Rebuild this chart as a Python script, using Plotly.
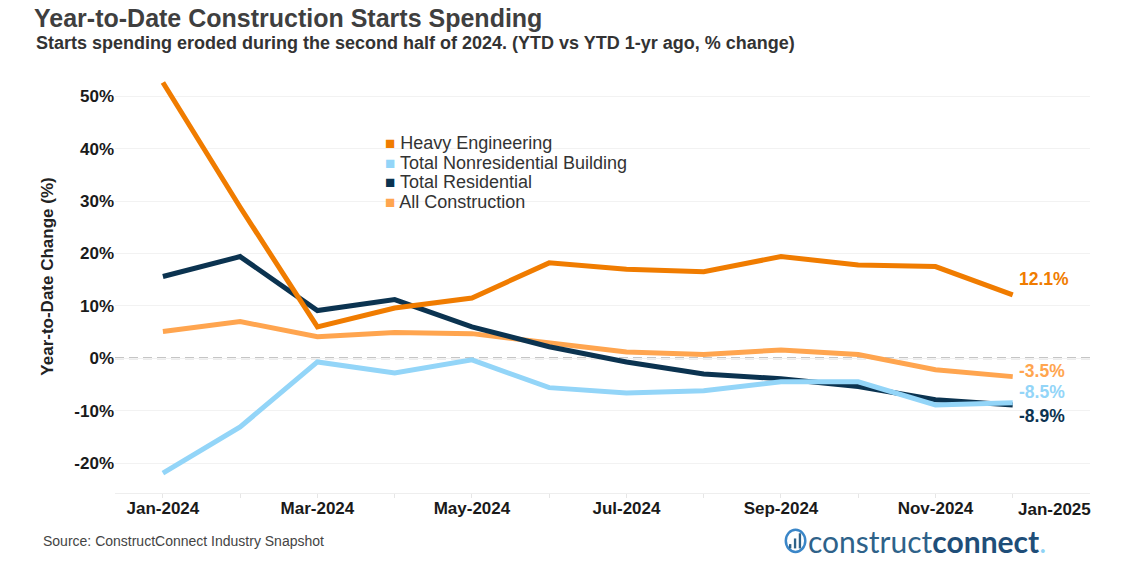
import plotly.graph_objects as go

months = ["Jan-2024", "Feb-2024", "Mar-2024", "Apr-2024", "May-2024", "Jun-2024",
          "Jul-2024", "Aug-2024", "Sep-2024", "Oct-2024", "Nov-2024", "Dec-2024"]
heavy_engineering = [52.6, 28.8, 6.0, 9.6, 11.5, 18.2, 17.0, 16.5, 19.4, 17.8, 17.5, 12.1]
nonresidential = [-21.9, -13.1, -0.7, -2.8, -0.3, -5.6, -6.6, -6.2, -4.5, -4.5, -8.9, -8.5]
residential = [15.6, 19.4, 9.1, 11.2, 6.0, 2.2, -0.7, -3.0, -3.9, -5.4, -7.9, -8.9]
all_construction = [5.1, 7.0, 4.1, 4.9, 4.7, 3.0, 1.2, 0.7, 1.6, 0.7, -2.2, -3.5]

tick_labels = ["Jan-2024", "Mar-2024", "May-2024", "Jul-2024", "Sep-2024", "Nov-2024"]
last_tick_label = "Jan-2025"
y_ticks = [-20, -10, 0, 10, 20, 30, 40, 50]

C_HE = "#F07C00"
C_NR = "#93D5F8"
C_RES = "#0B3350"
C_ALL = "#FFA54F"

FONT = "Liberation Sans, Arial, sans-serif"
x_idx = list(range(len(months)))
tick_idx = [months.index(m) for m in tick_labels]

fig = go.Figure()

series = [
    ("All Construction", all_construction, C_ALL),
    ("Total Residential", residential, C_RES),
    ("Total Nonresidential Building", nonresidential, C_NR),
    ("Heavy Engineering", heavy_engineering, C_HE),
]
for name, vals, col in series:
    fig.add_trace(go.Scatter(x=x_idx, y=vals, mode="lines", name=name,
                             line=dict(color=col, width=5), showlegend=False,
                             customdata=months,
                             hovertemplate="%{customdata}: %{y:.1f}%<extra>" + name + "</extra>"))

# legend (square swatch + name), drawn as annotations for compact row spacing
legend_items = [("Heavy Engineering", C_HE), ("Total Nonresidential Building", C_NR),
                ("Total Residential", C_RES), ("All Construction", C_ALL)]
for i, (name, col) in enumerate(legend_items):
    y_px = 143 + i * 19.7
    fig.add_annotation(x=(383 - 115) / 975, y=(493 - y_px) / 433, xref="paper", yref="paper",
                       text=f"<span style='color:{col};font-size:17px'>■</span> {name}",
                       showarrow=False, xanchor="left", yanchor="middle",
                       font=dict(family=FONT, size=18, color="#333333"))

# end labels
end_labels = [
    (heavy_engineering[-1], C_HE, 16),
    (all_construction[-1], C_ALL, 6),
    (nonresidential[-1], C_NR, 11),
    (residential[-1], C_RES, -11),
]
for val, col, ys in end_labels:
    fig.add_annotation(x=x_idx[-1], y=val, text=f"{val:.1f}%", showarrow=False,
                       xanchor="left", yanchor="middle", xshift=4, yshift=ys,
                       font=dict(family=FONT, size=17.5, color=col, weight="bold"))

fig.add_hline(y=0, line=dict(color="#B3B3B3", width=2, dash="9px,5px"), layer="below")

# last x label (shifted to fit inside, as in the original)
fig.add_annotation(x=12, y=0, xref="x", yref="paper", text=last_tick_label, showarrow=False,
                   xanchor="right", yanchor="top", yshift=-5, xshift=3,
                   font=dict(family=FONT, size=17, color="#1a1a1a", weight="bold"))

# subtitle
fig.add_annotation(x=(34 - 115) / 975, y=(493 - 43) / 433, xref="paper", yref="paper", text=
                   "Starts spending eroded during the second half of 2024. (YTD vs YTD 1-yr ago, % change)",
                   showarrow=False, xanchor="left", yanchor="middle",
                   font=dict(family=FONT, size=18, color="#333333", weight="bold"))

# source
fig.add_annotation(x=(41 - 115) / 975, y=(493 - 541) / 433, xref="paper", yref="paper",
                   text="Source: ConstructConnect Industry Snapshot", showarrow=False,
                   xanchor="left", yanchor="middle",
                   font=dict(family=FONT, size=14, color="#444444"))

# logo text
fig.add_annotation(x=(806 - 115) / 975, y=(493 - 541) / 433, xref="paper", yref="paper",
                   text="<span style='color:#2E6289'>construct</span><b style='color:#1F4E79'>connect</b><span style='color:#8FD3F5'>.</span>",
                   showarrow=False, xanchor="left", yanchor="middle",
                   font=dict(family="Lato, Open Sans, sans-serif", size=30, color="#2E6289"))

# logo icon (rough)
fig.add_shape(type="circle", xref="paper", yref="paper", x0=0.688, x1=0.708, y0=-0.136, y1=-0.085,
              line=dict(color="#3A86C8", width=2.5))
for bx, top in [(0.6925, -0.118), (0.6975, -0.105), (0.7025, -0.093)]:
    fig.add_shape(type="rect", xref="paper", yref="paper", x0=bx - 0.0012, x1=bx + 0.0012,
                  y0=-0.128, y1=top, line=dict(width=0), fillcolor="#2E6289")

fig.update_layout(
    width=1122, height=568,
    margin=dict(l=115, r=32, t=60, b=75),
    paper_bgcolor="white", plot_bgcolor="white",
    title=dict(text="Year-to-Date Construction Starts Spending", x=34 / 1122, xanchor="left",
               y=1 - 18 / 568, yanchor="middle",
               font=dict(family=FONT, size=25, color="#3F3F3F", weight="bold")),
    showlegend=False,
    xaxis=dict(range=[-0.62, 12.0], tickmode="array", tickvals=tick_idx, ticktext=tick_labels,
               showgrid=False, zeroline=False, showline=True, linecolor="#EEEEEE", linewidth=1,
               ticks="", tickfont=dict(family=FONT, size=17, color="#1a1a1a", weight="bold"),
               minor=dict(tickmode="array", tickvals=x_idx, ticks="outside", ticklen=4,
                          tickcolor="#E6E6E6", showgrid=False)),
    yaxis=dict(range=[-25.7, 56.9], tickmode="array", tickvals=y_ticks,
               ticktext=[f"{v}%" for v in y_ticks], showgrid=True, gridcolor="#F2F2F2",
               gridwidth=1, zeroline=False, showline=False,
               tickfont=dict(family=FONT, size=17, color="#1a1a1a", weight="bold"),
               title=dict(text="Year-to-Date Change (%)", standoff=16,
                          font=dict(family=FONT, size=17, color="#222222", weight="bold"))),
)

fig.write_html("out.html", config={"displayModeBar": False},
               post_script="document.body.style.margin='0';")
